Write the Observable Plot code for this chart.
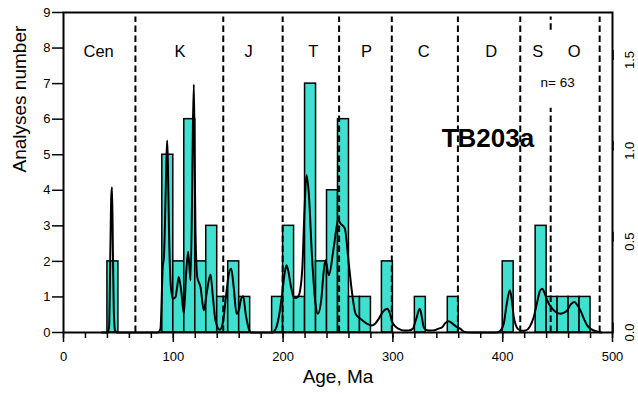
<!DOCTYPE html>
<html><head><meta charset="utf-8">
<script src="https://cdn.jsdelivr.net/npm/d3@7"></script>
<script src="https://cdn.jsdelivr.net/npm/@observablehq/plot@0.6"></script>
<style>body{margin:0;background:#fff}</style>
</head><body><div id="chart"></div>
<script>
// Histogram: 10 Ma bins (bin start age) and counts
const binStart = [40, 90, 100, 110, 120, 130, 140, 150, 160, 190, 200, 210, 220, 230, 240, 250, 260, 270, 290, 320, 350, 400, 430, 440, 450, 460, 470];
const counts   = [2, 5, 2, 6, 2, 3, 1, 2, 1, 1, 3, 1, 7, 2, 4, 6, 1, 1, 2, 1, 1, 2, 3, 1, 1, 1, 1];
const binWidth = 10;

// Probability density curve (right axis)
const curveAge = [35, 40, 41.5, 42.8, 43.5, 44.2, 45.0, 45.8, 47, 49,
  86, 88.3, 90.4, 91.5, 92.5, 93.5, 94.4, 95.0, 95.9, 97.4, 99.5, 102, 103.5, 105, 107.5, 109.6, 111.7, 113.5, 115.7, 117.2, 117.8, 118.7, 119.4, 120.2, 121.8, 124.8, 127.8, 130.5, 133.9, 136, 138.4, 142.3, 145, 148, 150.5, 152.7, 155, 157.6, 160, 161.5, 163.7, 166, 168.8, 171,
  190, 191.5, 194, 196.1, 199.2, 201.5, 203.1, 205, 206.7, 209.7, 212, 214.3, 217.4, 219.5, 221.3, 223.4, 226.5, 229.5, 231.6, 234.7, 237.1, 238.6, 241.6, 246.2, 250.2, 252.3, 256.2, 259.8, 262.9, 266, 270.5, 276.6, 281, 284, 287.2, 291, 294.8, 297, 299.4, 302, 305.4, 310, 314.5, 318, 321, 324.5, 326.5, 328.1, 331, 334.2, 338, 341, 344.9, 347.5, 350.9, 354, 358.5, 361.6, 364.6, 370.7,
  395, 398, 401, 403.5, 406.5, 408.5, 410.1, 412, 413.8, 417, 420.8, 424.5, 428.3, 431.5, 434, 436, 438, 440.5, 445.1, 449, 452.6, 455.5, 458.7, 462, 465.4, 468, 470.8, 474, 476.9, 480, 483, 487, 490];
const curveDensity = [0, 0, 0.03, 0.5, 0.75, 0.8, 0.45, 0.12, 0.01, 0,
  0, 0.02, 0.36, 0.42, 0.62, 0.9, 1.057, 0.95, 0.62, 0.287, 0.186, 0.195, 0.25, 0.306, 0.214, 0.103, 0.324, 0.444, 0.287, 0.8, 1.116, 1.365, 1.0, 0.56, 0.306, 0.25, 0.122, 0.22, 0.319, 0.2, 0.066, 0.015, 0.05, 0.2, 0.32, 0.352, 0.25, 0.103, 0.13, 0.18, 0.199, 0.1, 0.02, 0,
  0, 0.005, 0.03, 0.085, 0.214, 0.33, 0.37, 0.33, 0.269, 0.195, 0.19, 0.204, 0.343, 0.674, 0.867, 0.766, 0.398, 0.159, 0.103, 0.177, 0.343, 0.398, 0.315, 0.471, 0.619, 0.6, 0.573, 0.38, 0.214, 0.103, 0.076, 0.048, 0.039, 0.05, 0.076, 0.115, 0.131, 0.11, 0.057, 0.035, 0.02, 0.011, 0.011, 0.02, 0.07, 0.131, 0.08, 0.029, 0.012, 0.011, 0.012, 0.02, 0.029, 0.05, 0.062, 0.05, 0.029, 0.02, 0.005, 0,
  0, 0.01, 0.05, 0.15, 0.232, 0.17, 0.085, 0.04, 0.02, 0.01, 0.011, 0.03, 0.085, 0.17, 0.23, 0.241, 0.22, 0.177, 0.131, 0.11, 0.103, 0.108, 0.122, 0.155, 0.168, 0.15, 0.122, 0.075, 0.039, 0.02, 0.011, 0.003, 0];

// Geological period boundaries (Ma) and labels
const boundaries = [65.5, 145.5, 199.6, 251, 299, 359.2, 416, 488.3];
const boundarySO = [443.7];
const periodNames = ["Cen", "K", "J", "T", "P", "C", "D", "S", "O"];
const periodLabelAge = [32, 106, 168.5, 227.5, 276, 328, 389.5, 432, 465];

// Tick values
const xMajorTicks = [0, 100, 200, 300, 400, 500];
const xMinorTicks = [0, 20, 40, 60, 80, 100, 120, 140, 160, 180, 200, 220, 240, 260, 280, 300, 320, 340, 360, 380, 400, 420, 440, 460, 480, 500];
const yTicks = [0, 1, 2, 3, 4, 5, 6, 7, 8, 9];
const densityTicks = [0, 0.5, 1.0, 1.5];

const sampleName = "TB203a";
const nText = "n= 63";
const sampleX = [386.5];
const nX = [450];
const xTitle = "Age, Ma";
const yTitle = "Analyses number";

// ratio between left (count) units and right (density) units
const K = 5.11;

const bars = binStart.map((s, i) => ({x1: s, x2: s + binWidth, n: counts[i]}));
const curve = curveAge.map((a, i) => ({age: a, v: curveDensity[i] * K}));
const labels = periodNames.map((p, i) => ({age: periodLabelAge[i], name: p}));

const font = '"Liberation Sans", Arial, sans-serif';
const dash = "6.5,3.5";

const chart = Plot.plot({
  width: 638, height: 394,
  marginLeft: 63, marginRight: 26, marginTop: 12, marginBottom: 62,
  style: {fontFamily: font, fontSize: "13px", color: "black", background: "white"},
  x: {domain: [0, 500], label: null},
  y: {domain: [0, 9], label: null},
  marks: [
    Plot.rectY(bars, {x1: "x1", x2: "x2", y: "n", fill: "#40e0d0", stroke: "black", strokeWidth: 1.5}),
    Plot.ruleX(boundaries, {y1: 0, y2: 8.87, stroke: "black", strokeWidth: 2, strokeDasharray: dash}),
    Plot.ruleX(boundarySO, {y1: 0, y2: 6.31, stroke: "black", strokeWidth: 2, strokeDasharray: dash}),
    Plot.ruleX(boundarySO, {y1: 8.5, y2: 8.87, stroke: "black", strokeWidth: 2, strokeDasharray: dash}),
    Plot.line(curve, {x: "age", y: "v", stroke: "black", strokeWidth: 2, curve: "monotone-x"}),
    Plot.frame({stroke: "black", strokeWidth: 2}),
    Plot.axisY(yTicks, {anchor: "left", tickSize: 11, tickPadding: 2, fontSize: 13, strokeWidth: 1.5, label: null}),
    Plot.axisY(densityTicks.map(v => v * K), {anchor: "right", tickSize: 10, tickPadding: 7, rotate: -90, textAnchor: "middle", fontSize: 13, strokeWidth: 1.5, tickFormat: v => (v / K).toFixed(1), label: null}),
    Plot.axisX(xMinorTicks, {anchor: "bottom", tickSize: 6, strokeWidth: 1.5, tickFormat: () => "", label: null}),
    Plot.axisX(xMajorTicks, {anchor: "bottom", tickSize: 10, tickPadding: 9, fontSize: 13, strokeWidth: 1.5, label: null}),
    Plot.text(labels, {x: "age", text: "name", frameAnchor: "top", dy: 32.7, fontSize: 16.5, fill: "black"}),
    Plot.text([nText], {x: nX, text: d => d, frameAnchor: "top", dy: 64.7, fontSize: 13.5, fill: "black"}),
    Plot.text([sampleName], {x: sampleX, text: d => d, frameAnchor: "top", dy: 116.4, fontSize: 26, fontWeight: "bold", fill: "black"}),
    Plot.text([xTitle], {frameAnchor: "bottom", dy: 50, fontSize: 19, fill: "black"}),
    Plot.text([yTitle], {frameAnchor: "left", dx: -43.5, rotate: -90, fontSize: 19, fill: "black"})
  ]
});
document.getElementById("chart").appendChild(chart);
</script>
</body></html>
